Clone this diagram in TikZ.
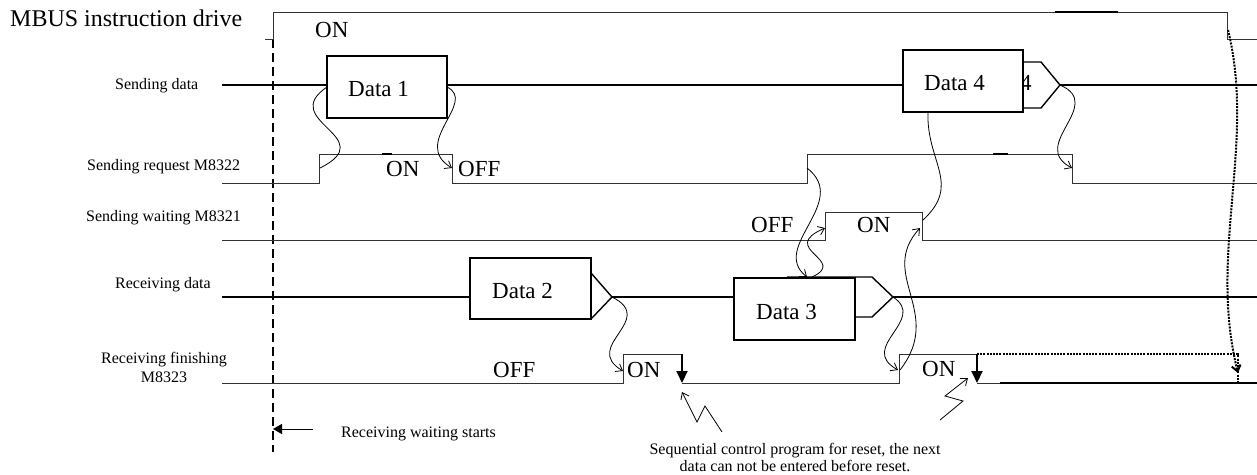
\documentclass[tikz,border=0pt]{standalone}
\usepackage{fontspec}
\setmainfont{Liberation Serif}
\usetikzlibrary{arrows.meta,calc}
\tikzset{
  sig/.style={draw=black!80, line width=1pt},
  dline/.style={draw=black, line width=1.4pt},
  databox/.style={draw=black, line width=2pt, fill=white, inner sep=0pt, outer sep=0pt},
  lbl/.style={font=\fontsize{16}{19}\selectfont, inner sep=0pt, anchor=base west},
  big/.style={font=\fontsize{23}{23}\selectfont, inner sep=0pt, anchor=base west},
  curv/.style={draw=black, line width=0.8pt},
  barb/.style={-{Straight Barb[length=6pt,width=9pt]}},
  resetarrow/.style={draw=black, line width=2pt, -{Triangle[length=12pt,width=11pt]}},
  dotline/.style={draw=black, line width=2pt, dash pattern=on 2pt off 1.2pt},
}
\begin{document}
\begin{tikzpicture}[x=1pt,y=-1pt]
\useasboundingbox (0,0) rectangle (1257,474);

% ---- left labels ----
\node[font=\fontsize{24}{24}\selectfont, inner sep=0pt, anchor=base west] (title) at (10,26) {MBUS instruction drive};
\node[lbl] (lsd) at (115,89) {Sending data};
\node[lbl] (lsr) at (87,170) {Sending request M8322};
\node[lbl] (lsw) at (86,221) {Sending waiting M8321};
\node[lbl] (lrd) at (115,288) {Receiving data};
\node[font=\fontsize{16}{19}\selectfont, inner sep=0pt, anchor=base, align=center] (lrf) at (164,382) {Receiving finishing\\M8323};

% ---- dashed start line ----
\coordinate (dTop) at (273,39);
\coordinate (dBot) at (273,452);
\draw[line width=2.2pt, dash pattern=on 9pt off 5pt] (dTop) -- (dBot);
\coordinate (rwTail) at (313,429);
\coordinate (rwHead) at (273,429);
\draw[line width=0.9pt, -{Triangle[length=9pt,width=10pt]}] (rwTail) -- (rwHead);
\node[lbl] (lrw) at (341,437) {Receiving waiting starts};

% ---- MBUS drive ----
\draw[sig] (265,39) -- (273,39) -- (273,12) -- (1227,12) -- (1227,39) -- (1257,39);
\draw[line width=1.3pt] (1055,12) -- (1118,12);
\node[big] (mbOn) at (315,37) {ON};

% ---- Sending data ----
\node[big] (d4part) at (1020,90) {4};
\node[databox, minimum width=120pt, minimum height=62pt] (d1) at (387,87) {};
\node[databox, minimum width=120pt, minimum height=62pt] (d4) at (963,81) {};
\node[big] (d1t) at (348,96) {Data 1};
\node[big] (d4t) at (924,90) {Data 4};
\coordinate (sdL) at (222,85);
\coordinate (sdR) at (1257,85);
\coordinate (d4tip) at (1060,85);
\draw[dline] (sdL) -- (sdL -| d1.west);
\draw[dline] (sdL -| d1.east) -- (sdL -| d4.west);
\draw[dline] (1023,62) -- (1041,62) -- (d4tip) -- (1041,108) -- (1023,108);
\draw[dline] (d4tip) -- (sdR);

% ---- Sending request M8322 ----
\draw[sig] (222,183) -- (319,183) -- (319,154) -- (452,154) -- (452,183)
  -- (807,183) -- (807,154) -- (1072,154) -- (1072,183) -- (1257,183);
\draw[line width=1.8pt] (382,154) -- (392,154);
\draw[line width=1.8pt] (993,154) -- (1008,154);
\node[big] (rqOn) at (386,176) {ON};
\node[big] (rqOff) at (458,176) {OFF};

% ---- Sending waiting M8321 ----
\draw[sig] (222,240) -- (825,240) -- (825,212) -- (922,212) -- (922,240) -- (1257,240);
\node[big] (swOff) at (751,232) {OFF};
\node[big] (swOn) at (857,232) {ON};

% ---- Receiving data ----
\node[big] (d3part) at (845,306) {3};
\node[databox, minimum width=121pt, minimum height=61pt] (d2) at (530.5,288.5) {};
\node[databox, minimum width=121pt, minimum height=62pt] (d3) at (794.5,309) {};
\node[big] (d2t) at (492,298) {Data 2};
\node[big] (d3t) at (756,319) {Data 3};
\coordinate (rdL) at (222,297);
\coordinate (rdR) at (1257,297);
\coordinate (d2tip) at (612,297);
\coordinate (d3tip) at (893,297);
\draw[dline] (rdL) -- (rdL -| d2.west);
\draw[dline] (591,273) -- (d2tip) -- (591,319);
\draw[dline] (d2tip) -- (rdL -| d3.west);
\draw[dline] (787,277) -- (872,277) -- (d3tip) -- (872,317) -- (855,317);
\draw[dline] (d3tip) -- (rdR);

% ---- Receiving finishing M8323 ----
\draw[sig] (222,383) -- (623,383) -- (623,354) -- (682,354);
\draw[sig] (682,383) -- (899,383) -- (899,354) -- (977,354);
\draw[sig] (977,383) -- (1257,383);
\draw[line width=1.5pt] (1000,383) -- (1257,383);
\coordinate (rs1top) at (682,354);
\coordinate (rs1bot) at (682,383);
\coordinate (rs2top) at (977,354);
\coordinate (rs2bot) at (977,383);
\draw[resetarrow] (rs1top) -- (rs1bot);
\draw[resetarrow] (rs2top) -- (rs2bot);
\draw[dotline] (rs2top) -- (1238,354) -- (1238,383);
\node[big] (rfOff) at (493,377) {OFF};
\node[big] (rfOn1) at (627,377) {ON};
\node[big] (rfOn2) at (922,376) {ON};

% ---- cause/effect curves ----
\coordinate (rqRise1) at (320,168);
\coordinate (rqFall1) at (452,168);
\coordinate (rqRise2) at (807,168);
\coordinate (d3top) at (807,277);
\coordinate (d3top2) at (812,277);
\coordinate (swRise) at (825,228);
\coordinate (d4bot) at (928,112);
\coordinate (swFall) at (923,220);
\coordinate (swFallB) at (920,228);
\coordinate (rfRise2) at (900,370);
\coordinate (rfRise1a) at (623,371);
\coordinate (rfRise2a) at (898,370);
\coordinate (rqFall2) at (1072,168);
\coordinate (mbFall) at (1228,30);
\coordinate (rfEnd) at (1238,373);

\draw[curv] (d1.west) .. controls (277,121) and (382,137) .. (rqRise1);
\draw[curv, barb] (d1.east) .. controls (478,102) and (410,143) .. (rqFall1);
\draw[curv, barb] (rqRise2) .. controls (851,202) and (769,247) .. (d3top);
\draw[curv, barb] (d3top2) .. controls (849,260) and (777,249) .. (swRise);
\draw[curv] (d4bot) .. controls (926,162) and (962,184) .. (swFall);
\draw[curv, barb] (rfRise2) .. controls (945,312) and (877,275) .. (swFallB);
\draw[curv, barb] (d2tip) .. controls (658,320) and (581,346) .. (rfRise1a);
\draw[curv, barb] (d3tip) .. controls (928,320) and (857,347) .. (rfRise2a);
\draw[curv, barb] (d4tip) .. controls (1106,105) and (1028,145) .. (rqFall2);
\draw[dotline, -{Straight Barb[length=6pt,width=9pt]}] (mbFall) .. controls (1256,144) and (1208,253) .. (rfEnd);

% ---- reset annotations ----
\coordinate (z1s) at (722,432);
\coordinate (z2s) at (940,420);
\draw[curv, barb] (z1s) -- (705,406) -- (697,422) -- ($(rs1bot)+(0,9)$);
\draw[curv, barb] (z2s) -- (963,401) -- (945,396) -- (968,378);
\node[font=\fontsize{16}{17}\selectfont, inner sep=0pt, anchor=base, align=center] (note) at (795,471)
  {Sequential control program for reset, the next\\data can not be entered before reset.};
\end{tikzpicture}
\end{document}
